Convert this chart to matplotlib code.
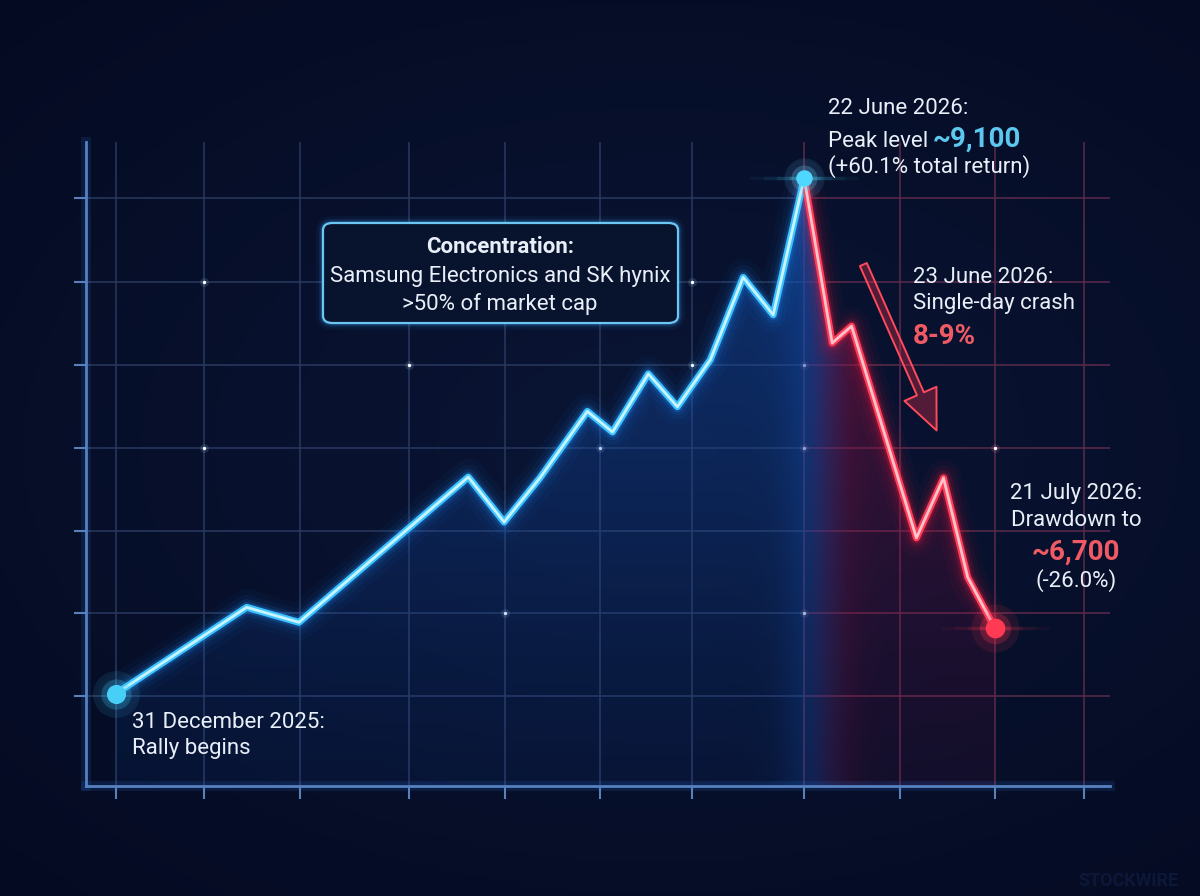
import numpy as np
import matplotlib
matplotlib.use("Agg")
import matplotlib.pyplot as plt
from matplotlib.patches import Polygon, FancyBboxPatch, FancyArrowPatch

plt.rcParams['font.family'] = ['Roboto', 'DejaVu Sans']

# index path (x = grid-cell position, y = index level)
session_pos = [0.00, 1.35, 1.89, 3.64, 4.01, 4.38, 4.87, 5.13, 5.50, 5.80,
               6.14, 6.48, 6.79, 7.11, 7.40, 7.60, 8.27, 8.55, 8.80, 9.08]
index_level = [6350, 6810, 6730, 7505, 7265, 7500, 7855, 7745, 8055, 7880,
               8130, 8570, 8370, 9100, 8220, 8310, 7180, 7500, 6970, 6700]
peak_i = 13

x_ticks = [0.0, 0.91, 1.90, 3.03, 4.02, 5.00, 5.95, 7.11, 8.10, 9.08, 10.0]
y_ticks = [6337, 6780, 7217, 7660, 8103, 8545, 8993]
sparkles = [(1, 5), (1, 3), (3, 4), (4, 1), (5, 3), (6, 4), (6, 5),
            (7, 4), (7, 3), (7, 1), (9, 3)]

W, H = 1200, 896
BG = '#050b22'
WHITE = '#e9eff8'
CYAN = '#5cc8f0'
RED = '#f05a64'


def fp(px, py):
    return px / W, 1 - py / H


fig = plt.figure(figsize=(12, 8.96), dpi=100, facecolor=BG)

# soft background
bg = fig.add_axes([0, 0, 1, 1], zorder=-10)
gx, gy = np.meshgrid(np.linspace(0, 1, 240), np.linspace(0, 1, 180))
r = np.sqrt(((gx - 0.55) / 0.8) ** 2 + ((gy - 0.5) / 0.7) ** 2)
shade = np.clip(1 - r, 0, 1)
img = np.zeros(gx.shape + (3,))
img[..., 0] = 0.016 + 0.025 * shade
img[..., 1] = 0.04 + 0.045 * shade
img[..., 2] = 0.13 + 0.08 * shade
bg.imshow(img, extent=[0, 1, 0, 1], aspect='auto', origin='lower')
bg.axis('off')

ax = fig.add_axes([86 / W, (H - 786) / H, (1110 - 86) / W, (786 - 142) / H])
ax.set_facecolor('none')
xmin, xmax = -0.31, 10.27
ymin, ymax = 5857, 9292
ax.set_xlim(xmin, xmax)
ax.set_ylim(ymin, ymax)

x = np.array(session_pos)
y = np.array(index_level)
xp = x[peak_i]

# grid, tinted red after the peak
for xv in x_ticks:
    col = '#5c2a4c' if xv >= xp - 0.01 else '#28395f'
    ax.vlines(xv, ymin, ymax, color=col, lw=1.1, zorder=1)
for yv in y_ticks:
    ax.hlines(yv, xmin, xp, color='#28395f', lw=1.1, zorder=1)
    ax.hlines(yv, xp, xmax, color='#5c2a4c', lw=1.1, zorder=1)
for i, j in sparkles:
    sc = '#ff8fb0' if x_ticks[i] >= xp - 0.01 else '#a8dcff'
    ax.scatter(x_ticks[i], y_ticks[j], s=40, color=sc, alpha=0.15, lw=0, zorder=2)
    ax.scatter(x_ticks[i], y_ticks[j], s=6, color='white', lw=0, zorder=2)

# gradient fill under the path
nx, ny = 500, 250
fx, fy = np.meshgrid(np.linspace(xmin, xmax, nx), np.linspace(ymin, ymax, ny))
t = np.clip((fx - xp) / 0.5, 0, 1)
yf = (fy - ymin) / (ymax - ymin)
rgba = np.zeros((ny, nx, 4))
rgba[..., 0] = 0.08 * (1 - t) + 0.55 * t
rgba[..., 1] = 0.32 * (1 - t) + 0.06 * t
rgba[..., 2] = 0.70 * (1 - t) + 0.25 * t
band = np.exp(-((fx - xp - 0.15) / 0.35) ** 2)
rgba[..., 3] = np.clip(0.10 + 0.45 * yf ** 1.3 + 0.25 * band, 0, 0.75)
fill = ax.imshow(rgba, extent=[xmin, xmax, ymin, ymax], origin='lower',
                 aspect='auto', zorder=2, interpolation='bilinear')
poly = Polygon(np.column_stack([np.r_[x[0], x, x[-1]], np.r_[ymin, y, ymin]]),
               closed=True, facecolor='none', edgecolor='none')
ax.add_patch(poly)
fill.set_clip_path(poly)


def glow_line(xs, ys, core, mid, outer):
    for lw, a in [(26, 0.035), (18, 0.06), (12, 0.10), (8, 0.22)]:
        ax.plot(xs, ys, color=outer, lw=lw, alpha=a, solid_joinstyle='round',
                solid_capstyle='round', zorder=4)
    ax.plot(xs, ys, color=mid, lw=5, solid_joinstyle='round',
            solid_capstyle='round', zorder=5)
    ax.plot(xs, ys, color=core, lw=2, solid_joinstyle='round',
            solid_capstyle='round', zorder=6)


glow_line(x[:peak_i + 1], y[:peak_i + 1], '#c9f3ff', '#3cc4ff', '#1e90ff')
glow_line(x[peak_i:], y[peak_i:], '#ffc3cb', '#ff3d58', '#ff1a3c')


def glow_dot(xv, yv, color, s, flare=False):
    if flare:
        for half, a in [(0.55, 0.05), (0.4, 0.07), (0.27, 0.1), (0.15, 0.16)]:
            ax.plot([xv - half, xv + half], [yv, yv], color=color, lw=2.5,
                    alpha=a, solid_capstyle='round', zorder=7)
    ax.scatter(xv, yv, s=s * 6, color=color, alpha=0.10, lw=0, zorder=7)
    ax.scatter(xv, yv, s=s * 2.5, color=color, alpha=0.22, lw=0, zorder=7)
    ax.scatter(xv, yv, s=s, color=color, lw=0, zorder=8)


glow_dot(x[0], y[0], '#48cff8', 190)
glow_dot(x[peak_i], y[peak_i], '#4fd8ff', 140, flare=True)
glow_dot(x[-1], y[-1], '#ff3a52', 200, flare=True)

# crash arrow
arrow = FancyArrowPatch((7.71, 8652), (8.49, 7740),
                        arrowstyle='simple,head_length=1.6,head_width=1.4,tail_width=0.3',
                        mutation_scale=18, facecolor=(1, 0.2, 0.3, 0.3),
                        edgecolor='#ff4a5c', lw=1.4, zorder=6)
ax.add_patch(arrow)

# spines and ticks
for side in ['top', 'right']:
    ax.spines[side].set_visible(False)
for side in ['left', 'bottom']:
    ax.spines[side].set_color('#5b80b8')
    ax.spines[side].set_linewidth(2)
ax.plot([xmin, xmax], [ymin, ymin], color='#3a8cff', lw=7, alpha=0.12,
        clip_on=False, zorder=3)
ax.plot([xmin, xmin], [ymin, ymax], color='#3a8cff', lw=7, alpha=0.12,
        clip_on=False, zorder=3)
ax.set_xticks(x_ticks)
ax.set_yticks(y_ticks)
ax.tick_params(direction='out', length=9, width=1.5, color='#5b80b8',
               labelbottom=False, labelleft=False)

# annotations
fs = 16
fig.text(*fp(132, 728), '31 December 2025:', fontsize=fs, color=WHITE, va='baseline')
fig.text(*fp(132, 754), 'Rally begins', fontsize=fs, color=WHITE, va='baseline')

fig.text(*fp(828, 114), '22 June 2026:', fontsize=fs, color=WHITE, va='baseline')
fig.text(*fp(828, 147), 'Peak level', fontsize=fs, color=WHITE, va='baseline')
fig.text(*fp(933, 147), '~9,100', fontsize=20, fontweight='bold', color=CYAN, va='baseline')
fig.text(*fp(828, 173), '(+60.1% total return)', fontsize=fs, color=WHITE, va='baseline')

fig.text(*fp(913, 283), '23 June 2026:', fontsize=fs, color=WHITE, va='baseline')
fig.text(*fp(913, 309), 'Single-day crash', fontsize=fs, color=WHITE, va='baseline')
fig.text(*fp(913, 344), '8-9%', fontsize=20, fontweight='bold', color=RED, va='baseline')

fig.text(*fp(1076, 499), '21 July 2026:', fontsize=fs, color=WHITE, va='baseline', ha='center')
fig.text(*fp(1076, 526), 'Drawdown to', fontsize=fs, color=WHITE, va='baseline', ha='center')
fig.text(*fp(1076, 560), '~6,700', fontsize=20, fontweight='bold', color=RED, va='baseline', ha='center')
fig.text(*fp(1076, 587), '(-26.0%)', fontsize=fs, color=WHITE, va='baseline', ha='center')

# concentration box
bx0, by0 = fp(323, 323)
bx1, by1 = fp(678, 223)
for lw, a in [(10, 0.05), (6, 0.10), (3.5, 0.2)]:
    fig.patches.append(FancyBboxPatch((bx0, by0), bx1 - bx0, by1 - by0,
                                      boxstyle='round,pad=0,rounding_size=0.008',
                                      transform=fig.transFigure, facecolor='none',
                                      edgecolor='#3aa8ff', lw=lw, alpha=a, zorder=8))
fig.patches.append(FancyBboxPatch((bx0, by0), bx1 - bx0, by1 - by0,
                                  boxstyle='round,pad=0,rounding_size=0.008',
                                  transform=fig.transFigure, facecolor='#08132e',
                                  edgecolor='#6cc6f2', lw=1.6, zorder=9))
fig.text(*fp(500, 253), 'Concentration:', fontsize=fs, fontweight='bold',
         color=WHITE, va='baseline', ha='center', zorder=10)
fig.text(*fp(500, 282), 'Samsung Electronics and SK hynix', fontsize=fs,
         color=WHITE, va='baseline', ha='center', zorder=10)
fig.text(*fp(500, 310), '>50% of market cap', fontsize=fs,
         color=WHITE, va='baseline', ha='center', zorder=10)

fig.text(*fp(1078, 886), 'STOCKWIRE', fontsize=13, fontweight='bold',
         color='#0d1838', va='baseline')

fig.savefig('out.png', dpi=100, facecolor=BG)
